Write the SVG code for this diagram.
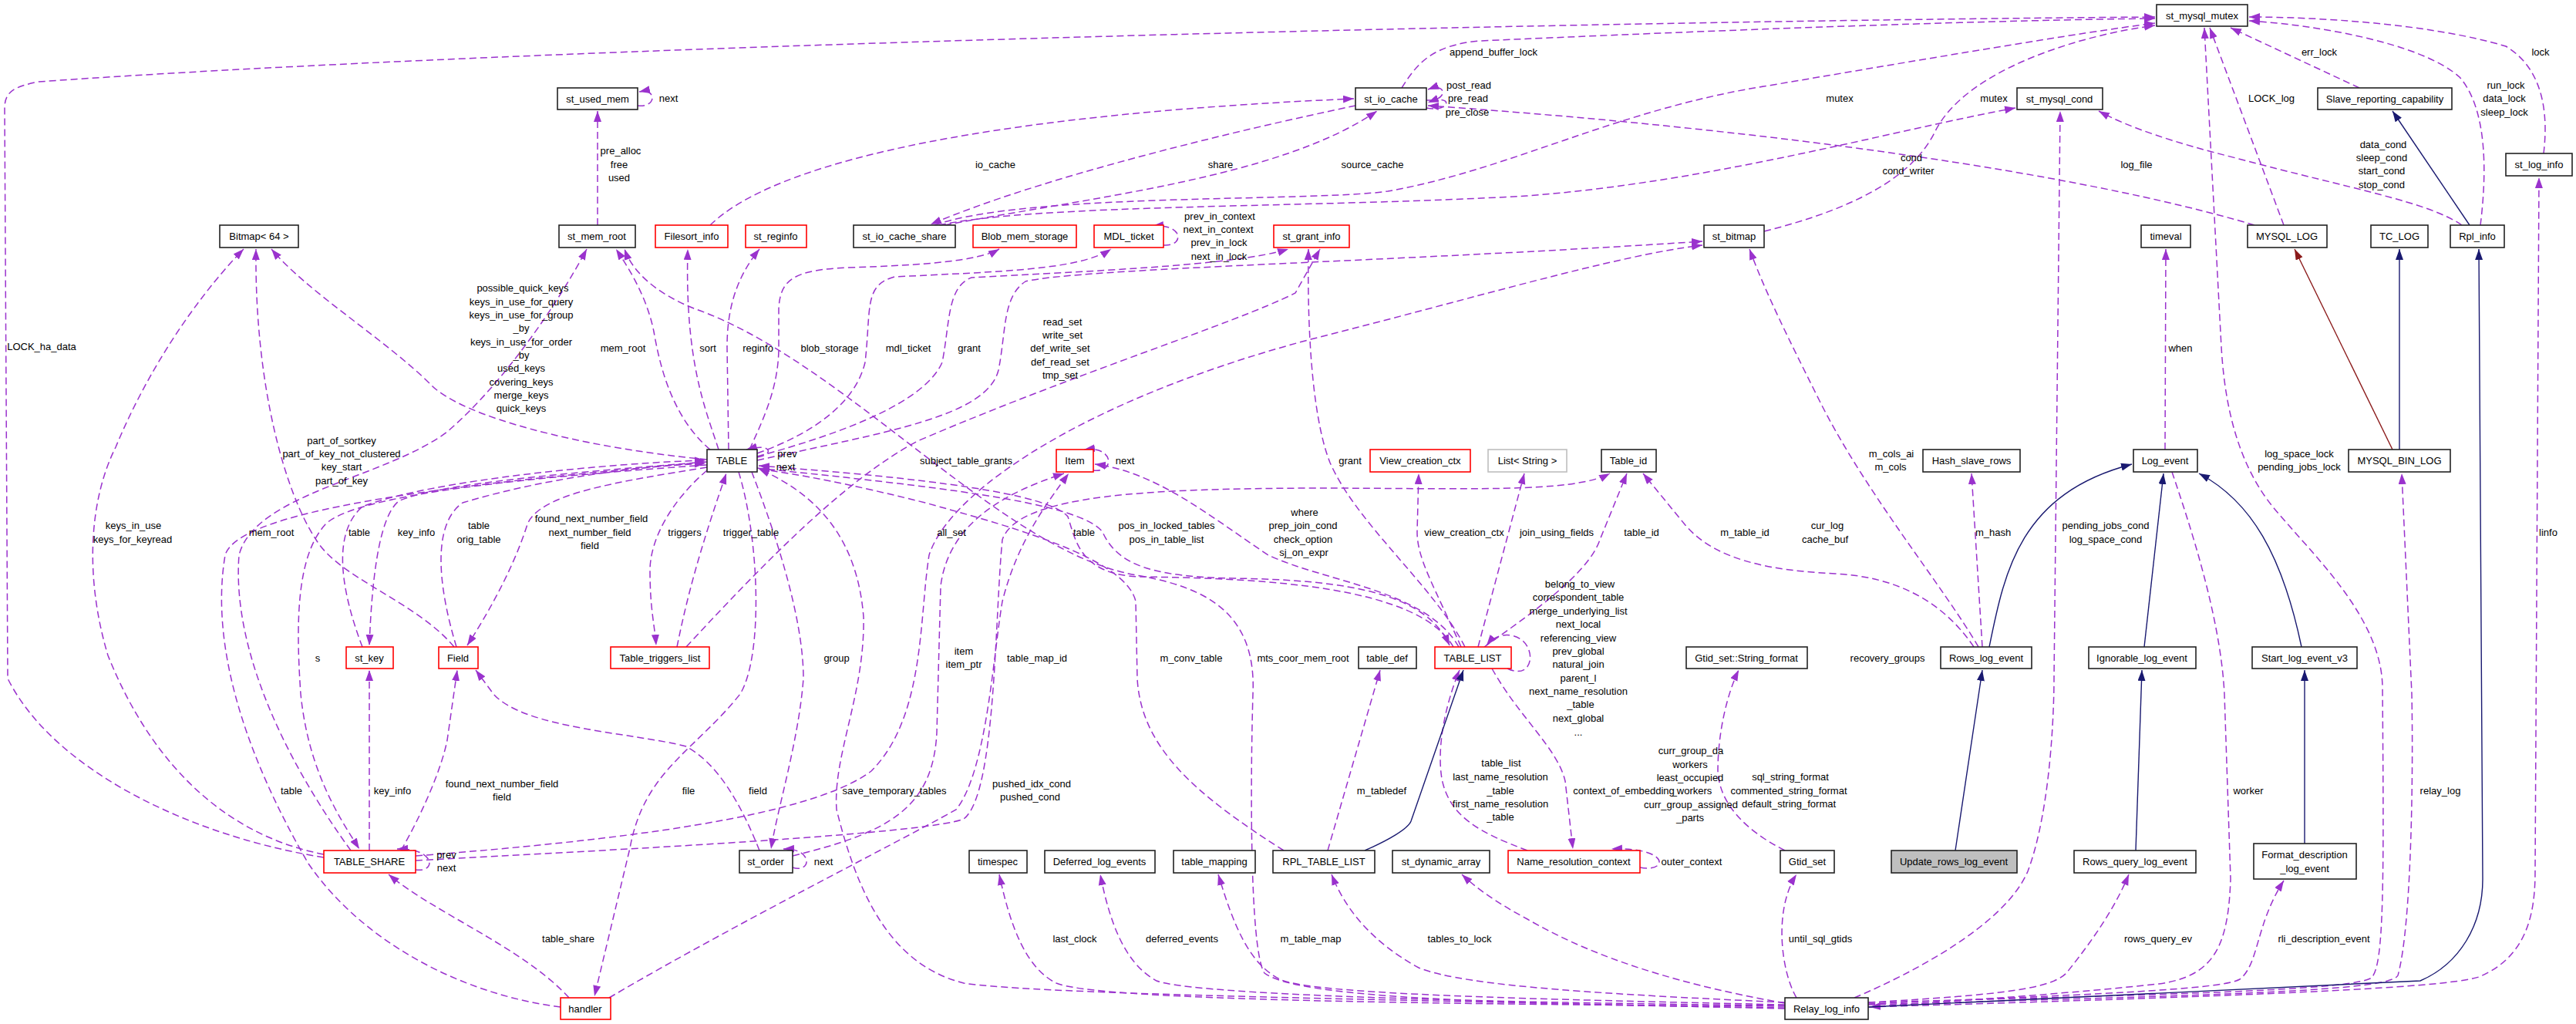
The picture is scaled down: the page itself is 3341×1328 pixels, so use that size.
<svg xmlns="http://www.w3.org/2000/svg" width="3341" height="1328" viewBox="0 0 3341 1328">
<style>
.n rect{fill:#fff;stroke:#222;stroke-width:1.6}
.n.r rect{stroke:#f00}
.n.g rect{stroke:#bfbfbf}
.n.f rect{fill:#bfbfbf}
text{font-family:"Liberation Sans",Arial,sans-serif;font-size:13px;fill:#000;text-anchor:middle}
.d{fill:none;stroke:#9a32cd;stroke-width:1.5;stroke-dasharray:9,5;marker-end:url(#ap)}
.b{fill:none;stroke:#191970;stroke-width:1.4;marker-end:url(#ab)}
.rr{fill:none;stroke:#8b1a1a;stroke-width:1.4;marker-end:url(#ar)}
</style>
<defs>
<marker id="ap" markerUnits="userSpaceOnUse" markerWidth="16" markerHeight="12" refX="14" refY="5" orient="auto"><path d="M0,0 L14,5 L0,10 z" fill="#9a32cd"/></marker>
<marker id="ab" markerUnits="userSpaceOnUse" markerWidth="16" markerHeight="12" refX="14" refY="5" orient="auto"><path d="M0,0 L14,5 L0,10 z" fill="#191970"/></marker>
<marker id="ar" markerUnits="userSpaceOnUse" markerWidth="16" markerHeight="12" refX="14" refY="5" orient="auto"><path d="M0,0 L14,5 L0,10 z" fill="#8b1a1a"/></marker>
</defs>
<rect width="3341" height="1328" fill="#fff"/>
<g id="edges">
<path class="d" d="M827,137 C852,140 852,114 829,119"/>
<path class="d" d="M775,292 L775,144"/>
<path class="d" d="M420,1112 C250,1085 70,1000 10,880 L6,140 C6,118 20,112 50,106 C700,60 2000,28 2795,22"/>
<path class="d" d="M921,292 C1000,215 1250,150 1756,128"/>
<path class="d" d="M1758,137 C1600,170 1350,230 1207,291"/>
<path class="d" d="M1225,292 C1420,255 1660,230 1786,144"/>
<path class="d" d="M1212,292 C1330,250 1700,262 1800,248 C1960,220 2100,140 2300,110 C2500,76 2700,42 2795,30"/>
<path class="d" d="M1218,292 C1350,264 1700,270 1980,254 C2220,236 2450,170 2614,140"/>
<path class="d" d="M1850,130 C1878,132 1878,106 1852,116"/>
<path class="d" d="M1850,140 C1884,146 1884,120 1852,133"/>
<path class="d" d="M1818,114 C1838,82 1858,58 1920,53 C2300,36 2600,26 2795,24"/>
<path class="d" d="M2924,292 C2700,225 2300,168 1852,137"/>
<path class="d" d="M2288,300 C2400,272 2480,232 2510,170 C2550,90 2700,45 2795,33"/>
<path class="d" d="M2962,292 L2866,36"/>
<path class="d" d="M3060,114 L2893,36"/>
<path class="d" d="M3217,292 C3226,220 3225,140 3190,100 C3140,55 3000,32 2917,27"/>
<path class="d" d="M3193,292 C3150,262 3050,245 2900,205 C2820,185 2760,165 2722,144"/>
<path class="d" d="M3299,199 C3305,150 3300,90 3250,60 C3150,30 3000,22 2917,22"/>
<path class="d" d="M2808,583 L2809,323"/>
<path class="d" d="M2423,1300 C2800,1290 3050,1285 3076,1268 C3092,1250 3092,1150 3090,890 C3088,800 3000,720 2950,660 C2900,600 2885,520 2881,450 L2859,36"/>
<path class="d" d="M2423,1303 C2900,1290 3100,1285 3110,1265 C3128,1200 3130,1000 3128,900 L3115,614"/>
<path class="d" d="M2423,1306 C2900,1292 3170,1282 3215,1267 C3280,1240 3288,1180 3288,1130 L3293,230"/>
<path class="d" d="M2817,612 C2840,680 2880,800 2885,900 L2893,1140 C2890,1230 2870,1266 2800,1276 C2650,1292 2500,1300 2425,1306"/>
<path class="d" d="M2423,1300 C2600,1290 2660,1282 2680,1262 C2712,1222 2742,1180 2761,1134"/>
<path class="d" d="M2423,1302 C2700,1290 2880,1284 2905,1270 C2930,1250 2925,1200 2962,1142"/>
<path class="d" d="M2405,1294 C2480,1262 2600,1200 2630,1130 C2660,1050 2664,920 2664,880 L2672,144"/>
<path class="d" d="M2571,839 L2557,614"/>
<path class="d" d="M2566,839 C2520,760 2420,640 2360,520 C2320,440 2290,380 2269,323"/>
<path class="d" d="M2560,839 C2520,780 2460,748 2380,744 C2300,740 2225,728 2185,680 L2131,614"/>
<path class="d" d="M1925,839 C1980,800 2060,745 2075,700 L2110,614"/>
<path class="d" d="M1917,839 L1977,614"/>
<path class="d" d="M1895,839 C1860,760 1838,725 1838,690 L1840,614"/>
<path class="d" d="M1900,839 C1860,760 1760,680 1725,600 C1705,550 1695,450 1697,323"/>
<path class="d" d="M1892,839 C1850,765 1720,755 1645,720 C1570,670 1500,612 1420,602"/>
<path class="d" d="M1885,839 C1840,760 1640,750 1480,748 C1400,746 1395,700 1385,670 C1360,640 1200,620 984,604"/>
<path class="d" d="M982,607 C1200,630 1400,650 1430,690 C1450,735 1500,748 1600,750 C1750,752 1850,770 1880,837"/>
<path class="d" d="M1418,610 C1446,614 1446,578 1406,583"/>
<path class="d" d="M982,593 C1004,590 1002,574 968,583"/>
<path class="d" d="M921,583 C870,540 855,470 848,430 C838,380 810,340 799,323"/>
<path class="d" d="M932,583 C915,530 888,470 892,323"/>
<path class="d" d="M945,583 L943,450 C943,400 955,360 985,323"/>
<path class="d" d="M972,583 C992,540 1010,500 1010,450 L1010,400 C1012,362 1030,350 1100,347 C1200,344 1270,338 1296,323"/>
<path class="d" d="M982,588 C1060,560 1110,520 1122,470 C1130,400 1120,370 1160,359 C1300,352 1400,350 1441,323"/>
<path class="d" d="M1509,318 C1536,320 1536,290 1495,293"/>
<path class="d" d="M982,592 C1100,560 1200,520 1222,470 C1232,420 1228,372 1260,360 C1400,352 1600,345 1671,323"/>
<path class="d" d="M982,597 C1150,560 1280,540 1295,480 C1305,430 1300,385 1330,365 C1400,348 1800,340 2208,313"/>
<path class="d" d="M917,610 C870,650 843,700 843,740 C843,790 849,810 851,837"/>
<path class="d" d="M878,839 C890,780 905,720 942,614"/>
<path class="d" d="M592,839 C568,760 560,680 600,652 C700,622 820,605 915,601"/>
<path class="d" d="M917,606 C800,625 700,640 684,680 C665,740 630,800 606,837"/>
<path class="d" d="M470,839 C440,760 432,690 470,657 C560,622 800,600 915,597"/>
<path class="d" d="M917,599 C750,612 560,628 517,650 C490,672 482,760 479,837"/>
<path class="d" d="M479,1103 L479,869"/>
<path class="d" d="M520,1103 C545,1060 572,1000 580,960 L593,869"/>
<path class="d" d="M917,603 C700,618 462,640 422,680 C386,720 383,800 390,900 C400,1000 440,1060 466,1101"/>
<path class="d" d="M539,1128 C566,1132 566,1100 515,1101"/>
<path class="d" d="M975,612 C1005,690 1042,800 1042,880 C1036,960 1008,1050 1000,1101"/>
<path class="d" d="M985,1103 C960,1040 930,990 890,968 C820,950 680,945 640,900 L617,869"/>
<path class="d" d="M1028,1110 C1150,1080 1210,1050 1215,950 L1220,760 C1230,680 1300,640 1380,614"/>
<path class="d" d="M1028,1125 C1052,1133 1056,1100 1016,1101"/>
<path class="d" d="M958,612 C985,700 990,850 960,900 C900,975 835,1000 817,1100 L771,1292"/>
<path class="d" d="M738,1294 C680,1230 560,1182 504,1134"/>
<path class="d" d="M727,1306 C600,1290 470,1222 400,1120 C330,1000 270,850 292,720 C312,650 700,620 915,599"/>
<path class="d" d="M2315,1308 C1800,1296 1350,1290 1250,1275 C1150,1250 1110,1150 1085,1050 C1080,980 1122,900 1120,800 C1112,700 1062,642 984,608"/>
<path class="d" d="M1665,1103 C1550,1030 1480,970 1475,880 L1473,780 C1460,722 1300,680 1200,652 C1100,627 1040,616 984,608"/>
<path class="d" d="M1722,1103 L1790,869"/>
<path class="d" d="M2315,1300 C2100,1290 1900,1280 1840,1255 C1780,1222 1745,1180 1727,1134"/>
<path class="d" d="M2315,1301 C2150,1272 2050,1232 1981,1192 C1940,1170 1915,1152 1896,1134"/>
<path class="d" d="M2315,1303 C2000,1296 1700,1290 1660,1270 C1620,1250 1600,1200 1580,1134"/>
<path class="d" d="M2315,1304 C1900,1300 1550,1290 1500,1272 C1460,1250 1440,1200 1427,1134"/>
<path class="d" d="M2315,1305 C1800,1302 1420,1296 1370,1275 C1330,1255 1310,1200 1296,1134"/>
<path class="d" d="M2330,1294 C2310,1260 2300,1180 2330,1134"/>
<path class="d" d="M2315,1103 C2260,1075 2230,1040 2228,1000 C2228,950 2240,900 2255,869"/>
<path class="d" d="M1981,1103 C1920,1080 1880,1060 1870,1010 C1862,960 1880,900 1893,869"/>
<path class="d" d="M1935,867 C1970,930 2020,970 2030,1013 L2040,1101"/>
<path class="d" d="M2127,1125 C2165,1132 2165,1098 2090,1101"/>
<path class="d" d="M1955,867 C1992,885 1995,830 1960,824 C1945,822 1935,828 1928,837"/>
<path class="d" d="M890,839 C1000,720 1100,620 1190,572 C1400,482 1600,420 1680,380 L1712,323"/>
<path class="d" d="M539,1110 C800,1090 1050,1060 1130,1000 C1200,930 1192,800 1205,720 C1230,640 1400,520 1700,440 C1900,390 2100,330 2208,318"/>
<path class="d" d="M539,1116 C800,1102 1200,1082 1250,1062 C1292,1030 1290,800 1300,700 C1320,640 1500,634 1700,633 C1900,633 2040,640 2088,614"/>
<path class="d" d="M917,596 C750,580 600,540 560,500 C500,440 400,380 352,323"/>
<path class="d" d="M420,1108 C300,1085 200,1000 140,850 C110,750 115,650 150,580 C200,460 270,370 316,323"/>
<path class="d" d="M589,839 C540,780 440,750 410,700 C370,640 330,500 332,323"/>
<path class="d" d="M455,1103 C380,1000 300,850 310,720 C330,640 500,620 580,560 C650,500 720,400 761,323"/>
<path class="d" d="M2315,1307 C1900,1302 1680,1292 1640,1262 C1620,1232 1622,1000 1625,900 C1630,792 1560,762 1480,747 C1300,720 1100,470 900,400 C850,380 820,352 810,323"/>
<path class="d" d="M790,1294 C950,1200 1150,1100 1240,1050 C1280,1000 1288,850 1300,780 C1320,700 1360,650 1386,614"/>
<path class="b" d="M3203,292 L3103,144"/>
<path class="rr" d="M3103,583 L2976,323"/>
<path class="b" d="M3112,583 L3112,323"/>
<path class="b" d="M2423,1306 L3139,1272 C3190,1250 3220,1200 3220,1140 L3215,323"/>
<path class="b" d="M2580,839 C2600,740 2620,640 2765,602"/>
<path class="b" d="M2781,839 L2806,614"/>
<path class="b" d="M2985,839 C2960,720 2920,650 2852,614"/>
<path class="b" d="M2536,1103 L2571,869"/>
<path class="b" d="M2770,1103 L2778,869"/>
<path class="b" d="M2989,1094 L2989,869"/>
<path class="b" d="M1770,1103 C1800,1090 1826,1075 1830,1065 L1898,869"/>
</g>
<g id="edge-labels">
<text x="867" y="132">next</text>
<text x="805" y="200">pre_alloc</text><text x="803" y="218">free</text><text x="803" y="235">used</text>
<text x="54" y="454">LOCK_ha_data</text>
<text x="1291" y="218">io_cache</text>
<text x="1583" y="218">share</text>
<text x="1780" y="218">source_cache</text>
<text x="1937" y="72">append_buffer_lock</text>
<text x="1905" y="115">post_read</text><text x="1904" y="132">pre_read</text><text x="1903" y="150">pre_close</text>
<text x="2386" y="132">mutex</text>
<text x="2479" y="209">cond</text><text x="2475" y="226">cond_writer</text>
<text x="2586" y="132">mutex</text>
<text x="3008" y="72">err_lock</text>
<text x="3295" y="72">lock</text>
<text x="2946" y="132">LOCK_log</text>
<text x="3250" y="115">run_lock</text><text x="3248" y="132">data_lock</text><text x="3248" y="150">sleep_lock</text>
<text x="2771" y="218">log_file</text>
<text x="3091" y="192">data_cond</text><text x="3089" y="209">sleep_cond</text><text x="3089" y="226">start_cond</text><text x="3089" y="244">stop_cond</text>
<text x="2828" y="456">when</text>
<text x="2585" y="695">m_hash</text>
<text x="2731" y="686">pending_jobs_cond</text><text x="2731" y="704">log_space_cond</text>
<text x="2982" y="593">log_space_lock</text><text x="2982" y="610">pending_jobs_lock</text>
<text x="3305" y="695">linfo</text>
<text x="678" y="378">possible_quick_keys</text><text x="676" y="396">keys_in_use_for_query</text><text x="676" y="413">keys_in_use_for_group</text><text x="676" y="430">_by</text><text x="676" y="448">keys_in_use_for_order</text><text x="676" y="465">_by</text><text x="676" y="482">used_keys</text><text x="676" y="500">covering_keys</text><text x="676" y="517">merge_keys</text><text x="676" y="534">quick_keys</text>
<text x="808" y="456">mem_root</text>
<text x="443" y="576">part_of_sortkey</text><text x="443" y="593">part_of_key_not_clustered</text><text x="443" y="610">key_start</text><text x="443" y="628">part_of_key</text>
<text x="173" y="686">keys_in_use</text><text x="172" y="704">keys_for_keyread</text>
<text x="352" y="695">mem_root</text>
<text x="466" y="695">table</text>
<text x="540" y="695">key_info</text>
<text x="621" y="686">table</text><text x="621" y="704">orig_table</text>
<text x="767" y="677">found_next_number_field</text><text x="765" y="695">next_number_field</text><text x="765" y="712">field</text>
<text x="412" y="858">s</text>
<text x="918" y="456">sort</text><text x="983" y="456">reginfo</text><text x="1076" y="456">blob_storage</text><text x="1178" y="456">mdl_ticket</text><text x="1257" y="456">grant</text>
<text x="1378" y="422">read_set</text><text x="1378" y="439">write_set</text><text x="1375" y="456">def_write_set</text><text x="1375" y="474">def_read_set</text><text x="1375" y="491">tmp_set</text>
<text x="1582" y="285">prev_in_context</text><text x="1580" y="302">next_in_context</text><text x="1581" y="319">prev_in_lock</text><text x="1581" y="337">next_in_lock</text>
<text x="1021" y="593">prev</text><text x="1019" y="610">next</text>
<text x="1253" y="602">subject_table_grants</text>
<text x="1459" y="602">next</text>
<text x="888" y="695">triggers</text><text x="974" y="695">trigger_table</text>
<text x="1234" y="695">all_set</text>
<text x="1406" y="695">table</text>
<text x="1513" y="686">pos_in_locked_tables</text><text x="1513" y="704">pos_in_table_list</text>
<text x="1692" y="669">where</text><text x="1690" y="686">prep_join_cond</text><text x="1690" y="704">check_option</text><text x="1691" y="721">sj_on_expr</text>
<text x="1751" y="602">grant</text>
<text x="1899" y="695">view_creation_ctx</text><text x="2019" y="695">join_using_fields</text><text x="2129" y="695">table_id</text><text x="2263" y="695">m_table_id</text>
<text x="2370" y="686">cur_log</text><text x="2367" y="704">cache_buf</text>
<text x="2453" y="593">m_cols_ai</text><text x="2452" y="610">m_cols</text>
<text x="2049" y="762">belong_to_view</text><text x="2047" y="779">correspondent_table</text><text x="2047" y="797">merge_underlying_list</text><text x="2047" y="814">next_local</text><text x="2047" y="832">referencing_view</text><text x="2047" y="849">prev_global</text><text x="2047" y="866">natural_join</text><text x="2047" y="884">parent_l</text><text x="2047" y="901">next_name_resolution</text><text x="2050" y="918">_table</text><text x="2047" y="936">next_global</text><text x="2047" y="954">...</text>
<text x="1085" y="858">group</text>
<text x="1250" y="849">item</text><text x="1250" y="866">item_ptr</text>
<text x="1345" y="858">table_map_id</text>
<text x="1545" y="858">m_conv_table</text>
<text x="1690" y="858">mts_coor_mem_root</text>
<text x="2448" y="858">recovery_groups</text>
<text x="378" y="1030">table</text>
<text x="509" y="1030">key_info</text>
<text x="651" y="1021">found_next_number_field</text><text x="651" y="1038">field</text>
<text x="579" y="1113">prev</text><text x="579" y="1130">next</text>
<text x="737" y="1222">table_share</text>
<text x="893" y="1030">file</text>
<text x="983" y="1030">field</text>
<text x="1160" y="1030">save_temporary_tables</text>
<text x="1338" y="1021">pushed_idx_cond</text><text x="1336" y="1038">pushed_cond</text>
<text x="1068" y="1122">next</text>
<text x="1394" y="1222">last_clock</text>
<text x="1533" y="1222">deferred_events</text>
<text x="1700" y="1222">m_table_map</text>
<text x="1792" y="1030">m_tabledef</text>
<text x="1947" y="994">table_list</text><text x="1946" y="1012">last_name_resolution</text><text x="1946" y="1030">_table</text><text x="1946" y="1047">first_name_resolution</text><text x="1946" y="1064">_table</text>
<text x="2106" y="1030">context_of_embedding</text>
<text x="2194" y="1122">outer_context</text>
<text x="2322" y="1012">sql_string_format</text><text x="2320" y="1030">commented_string_format</text><text x="2320" y="1047">default_string_format</text>
<text x="1893" y="1222">tables_to_lock</text>
<text x="2193" y="978">curr_group_da</text><text x="2192" y="996">workers</text><text x="2192" y="1013">least_occupied</text><text x="2194" y="1030">_workers</text><text x="2193" y="1048">curr_group_assigned</text><text x="2192" y="1065">_parts</text>
<text x="2361" y="1222">until_sql_gtids</text>
<text x="2916" y="1030">worker</text>
<text x="3165" y="1030">relay_log</text>
<text x="2799" y="1222">rows_query_ev</text>
<text x="3014" y="1222">rli_description_event</text>
</g>
<g id="st_mysql_mutex" class="n"><rect x="2797" y="6" width="118" height="28"/><text x="2856" y="25">st_mysql_mutex</text></g>
<g id="st_used_mem" class="n"><rect x="723" y="114" width="104" height="28"/><text x="775" y="133">st_used_mem</text></g>
<g id="st_io_cache" class="n"><rect x="1758" y="114" width="92" height="28"/><text x="1804" y="133">st_io_cache</text></g>
<g id="st_mysql_cond" class="n"><rect x="2616" y="114" width="111" height="28"/><text x="2671" y="133">st_mysql_cond</text></g>
<g id="Slave_reporting_capability" class="n"><rect x="3006" y="114" width="174" height="28"/><text x="3093" y="133">Slave_reporting_capability</text></g>
<g id="st_log_info" class="n"><rect x="3250" y="199" width="86" height="29"/><text x="3293" y="218">st_log_info</text></g>
<g id="Bitmap64" class="n"><rect x="285" y="292" width="102" height="29"/><text x="336" y="311">Bitmap&lt; 64 &gt;</text></g>
<g id="st_mem_root" class="n"><rect x="725" y="292" width="99" height="29"/><text x="774" y="311">st_mem_root</text></g>
<g id="Filesort_info" class="n r"><rect x="850" y="292" width="94" height="29"/><text x="897" y="311">Filesort_info</text></g>
<g id="st_reginfo" class="n r"><rect x="967" y="292" width="79" height="29"/><text x="1006" y="311">st_reginfo</text></g>
<g id="st_io_cache_share" class="n"><rect x="1107" y="292" width="132" height="29"/><text x="1173" y="311">st_io_cache_share</text></g>
<g id="Blob_mem_storage" class="n r"><rect x="1262" y="292" width="134" height="29"/><text x="1329" y="311">Blob_mem_storage</text></g>
<g id="MDL_ticket" class="n r"><rect x="1419" y="292" width="90" height="29"/><text x="1464" y="311">MDL_ticket</text></g>
<g id="st_grant_info" class="n r"><rect x="1652" y="292" width="98" height="29"/><text x="1701" y="311">st_grant_info</text></g>
<g id="st_bitmap" class="n"><rect x="2210" y="292" width="78" height="29"/><text x="2249" y="311">st_bitmap</text></g>
<g id="timeval" class="n"><rect x="2777" y="292" width="64" height="29"/><text x="2809" y="311">timeval</text></g>
<g id="MYSQL_LOG" class="n"><rect x="2915" y="292" width="103" height="29"/><text x="2966" y="311">MYSQL_LOG</text></g>
<g id="TC_LOG" class="n"><rect x="3075" y="292" width="74" height="29"/><text x="3112" y="311">TC_LOG</text></g>
<g id="Rpl_info" class="n"><rect x="3178" y="292" width="70" height="29"/><text x="3213" y="311">Rpl_info</text></g>
<g id="TABLE" class="n"><rect x="917" y="583" width="65" height="29"/><text x="949" y="602">TABLE</text></g>
<g id="Item" class="n r"><rect x="1370" y="583" width="48" height="29"/><text x="1394" y="602">Item</text></g>
<g id="View_creation_ctx" class="n r"><rect x="1777" y="583" width="130" height="29"/><text x="1842" y="602">View_creation_ctx</text></g>
<g id="List_String" class="n g"><rect x="1930" y="583" width="102" height="29"/><text x="1981" y="602">List&lt; String &gt;</text></g>
<g id="Table_id" class="n"><rect x="2077" y="583" width="71" height="29"/><text x="2112" y="602">Table_id</text></g>
<g id="Hash_slave_rows" class="n"><rect x="2494" y="583" width="126" height="29"/><text x="2557" y="602">Hash_slave_rows</text></g>
<g id="Log_event" class="n"><rect x="2767" y="583" width="83" height="29"/><text x="2808" y="602">Log_event</text></g>
<g id="MYSQL_BIN_LOG" class="n"><rect x="3046" y="583" width="132" height="29"/><text x="3112" y="602">MYSQL_BIN_LOG</text></g>
<g id="st_key" class="n r"><rect x="449" y="839" width="61" height="28"/><text x="479" y="858">st_key</text></g>
<g id="Field" class="n r"><rect x="569" y="839" width="51" height="28"/><text x="594" y="858">Field</text></g>
<g id="Table_triggers_list" class="n r"><rect x="792" y="839" width="128" height="28"/><text x="856" y="858">Table_triggers_list</text></g>
<g id="table_def" class="n"><rect x="1762" y="839" width="75" height="28"/><text x="1799" y="858">table_def</text></g>
<g id="TABLE_LIST" class="n r"><rect x="1861" y="839" width="99" height="28"/><text x="1910" y="858">TABLE_LIST</text></g>
<g id="Gtid_set_String_format" class="n"><rect x="2187" y="839" width="157" height="28"/><text x="2265" y="858">Gtid_set::String_format</text></g>
<g id="Rows_log_event" class="n"><rect x="2517" y="839" width="118" height="28"/><text x="2576" y="858">Rows_log_event</text></g>
<g id="Ignorable_log_event" class="n"><rect x="2709" y="839" width="139" height="28"/><text x="2778" y="858">Ignorable_log_event</text></g>
<g id="Start_log_event_v3" class="n"><rect x="2921" y="839" width="136" height="28"/><text x="2989" y="858">Start_log_event_v3</text></g>
<g id="TABLE_SHARE" class="n r"><rect x="420" y="1103" width="119" height="29"/><text x="479" y="1122">TABLE_SHARE</text></g>
<g id="st_order" class="n"><rect x="959" y="1103" width="69" height="29"/><text x="993" y="1122">st_order</text></g>
<g id="timespec" class="n"><rect x="1257" y="1103" width="75" height="29"/><text x="1294" y="1122">timespec</text></g>
<g id="Deferred_log_events" class="n"><rect x="1355" y="1103" width="143" height="29"/><text x="1426" y="1122">Deferred_log_events</text></g>
<g id="table_mapping" class="n"><rect x="1522" y="1103" width="106" height="29"/><text x="1575" y="1122">table_mapping</text></g>
<g id="RPL_TABLE_LIST" class="n"><rect x="1651" y="1103" width="132" height="29"/><text x="1717" y="1122">RPL_TABLE_LIST</text></g>
<g id="st_dynamic_array" class="n"><rect x="1806" y="1103" width="126" height="29"/><text x="1869" y="1122">st_dynamic_array</text></g>
<g id="Name_resolution_context" class="n r"><rect x="1956" y="1103" width="171" height="29"/><text x="2041" y="1122">Name_resolution_context</text></g>
<g id="Gtid_set" class="n"><rect x="2309" y="1103" width="70" height="29"/><text x="2344" y="1122">Gtid_set</text></g>
<g id="Update_rows_log_event" class="n f"><rect x="2453" y="1103" width="163" height="29"/><text x="2534" y="1122">Update_rows_log_event</text></g>
<g id="Rows_query_log_event" class="n"><rect x="2690" y="1103" width="158" height="29"/><text x="2769" y="1122">Rows_query_log_event</text></g>
<g id="Format_description_log_event" class="n"><rect x="2923" y="1094" width="133" height="46"/><text x="2989" y="1113">Format_description</text><text x="2989" y="1131">_log_event</text></g>
<g id="handler" class="n r"><rect x="727" y="1294" width="65" height="28"/><text x="759" y="1313">handler</text></g>
<g id="Relay_log_info" class="n"><rect x="2315" y="1294" width="108" height="28"/><text x="2369" y="1313">Relay_log_info</text></g>
</svg>
